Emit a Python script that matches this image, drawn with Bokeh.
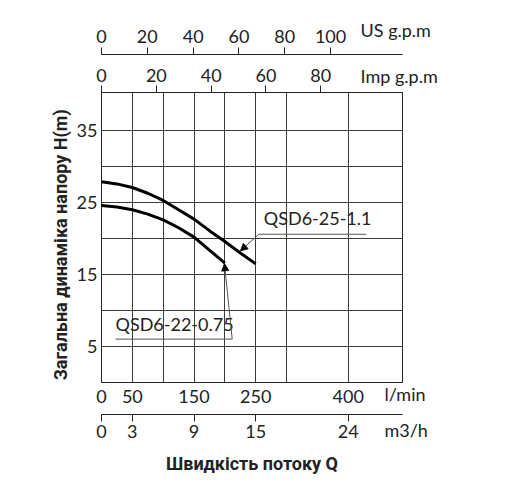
import math
from bokeh.plotting import figure
from bokeh.models import (LinearAxis, Range1d, FixedTicker, Label, Arrow, NormalHead)
from bokeh.embed import file_html
from bokeh.resources import INLINE

# ---------------- data ----------------
flow_25 = [0, 25, 50, 75, 100, 125, 150, 175, 200, 225, 250]          # l/min
head_25 = [27.9, 27.6, 27.1, 26.3, 25.3, 24.0, 22.7, 21.1, 19.6, 18.0, 16.5]  # m
flow_22 = [0, 25, 50, 75, 100, 125, 150, 175, 200]
head_22 = [24.6, 24.4, 24.0, 23.4, 22.6, 21.5, 20.2, 18.4, 16.6]

series_names = ["QSD6-25-1.1", "QSD6-22-0.75"]

lpm_ticks = [0, 50, 150, 250, 400]
m3h_ticks = [0, 3, 9, 15, 24]
us_ticks = [0, 20, 40, 60, 80, 100]
imp_ticks = [0, 20, 40, 60, 80]
head_ticks = [5, 15, 25, 35]
grid_x = [50, 100, 150, 200, 250, 300, 400]
grid_y = [5, 10, 15, 20, 25, 30, 35]

top_units = ["US g.p.m", "Imp g.p.m"]
bottom_units = ["l/min", "m3/h"]
x_title = "Швидкість потоку Q"
y_title = "Загальна динаміка напору H(m)"

X_MAX = 488      # l/min at right frame edge
Y_MAX = 40.3     # m at top frame edge
M3H_MAX = X_MAX * 0.06
US_MAX = 131.4
IMP_MAX = 109.8

TICK_FONT = "Lato"
TICK_SIZE = "18px"
INK = "#222222"
GRID = "#3c3c3c"

p = figure(width=510, height=500,
           x_range=Range1d(0, X_MAX), y_range=Range1d(0, Y_MAX),
           output_backend="svg", toolbar_location=None,
           min_border_left=101, min_border_right=108,
           min_border_top=92, min_border_bottom=118)
p.background_fill_color = "white"
p.border_fill_color = "white"
p.outline_line_color = INK
p.outline_line_width = 1

p.extra_x_ranges = {"m3h": Range1d(0, M3H_MAX),
                    "us": Range1d(0, US_MAX),
                    "imp": Range1d(0, IMP_MAX)}


def style_axis(ax, ticks, tick_out, standoff, line=True):
    ax.ticker = FixedTicker(ticks=ticks)
    ax.major_tick_out = tick_out
    ax.major_tick_in = 0
    ax.minor_tick_line_color = None
    ax.major_tick_line_color = INK
    ax.axis_line_color = INK if line else None
    ax.major_label_text_font = TICK_FONT
    ax.major_label_text_font_size = TICK_SIZE
    ax.major_label_text_color = INK
    ax.major_label_standoff = standoff


# bottom l/min axis (frame edge)
xa = p.xaxis[0]
style_axis(xa, lpm_ticks, 0, 7, line=False)
xa.axis_label = "\u00a0"
xa.axis_label_text_font_size = "5px"
xa.axis_label_standoff = 0

# bottom m3/h axis
m3h_axis = LinearAxis(x_range_name="m3h")
style_axis(m3h_axis, m3h_ticks, 7, 3)
m3h_axis.axis_label = x_title
m3h_axis.axis_label_text_font = "Roboto"
m3h_axis.axis_label_text_font_style = "bold"
m3h_axis.axis_label_text_font_size = "18px"
m3h_axis.axis_label_text_color = INK
m3h_axis.axis_label_standoff = 12
p.add_layout(m3h_axis, "below")

# top Imp g.p.m axis (frame edge)
imp_axis = LinearAxis(x_range_name="imp")
style_axis(imp_axis, imp_ticks, 7, 4)
imp_axis.axis_label = "\u00a0"
imp_axis.axis_label_text_font_size = "4px"
imp_axis.axis_label_standoff = 3
p.add_layout(imp_axis, "above")

# top US g.p.m axis
us_axis = LinearAxis(x_range_name="us")
style_axis(us_axis, us_ticks, 7, 5)
p.add_layout(us_axis, "above")

# left axis
ya = p.yaxis[0]
style_axis(ya, head_ticks, 0, 4, line=False)

# grid
p.xgrid.ticker = FixedTicker(ticks=grid_x)
p.ygrid.ticker = FixedTicker(ticks=grid_y)
for g in (p.xgrid, p.ygrid):
    g.grid_line_color = GRID
    g.grid_line_width = 1

# curves
p.line(flow_25, head_25, line_width=3, line_color="black")
p.line(flow_22, head_22, line_width=3, line_color="black")

# curve annotations
LEAD = "#555555"
p.add_layout(Label(x=263.1, y=21.3, text=series_names[0], text_font=TICK_FONT,
                   text_font_size=TICK_SIZE, text_color=INK))
p.line([255.0, 429.1], [20.6, 20.6], line_width=1, line_color=LEAD)
p.add_layout(Arrow(end=NormalHead(size=7, fill_color="black", line_color="black"),
                   x_start=255.0, y_start=20.6, x_end=225.4, y_end=18.3,
                   line_width=1, line_color=LEAD))

p.add_layout(Label(x=22.7, y=6.63, text=series_names[1], text_font=TICK_FONT,
                   text_font_size=TICK_SIZE, text_color=INK))
p.line([22.7, 211.9], [6.03, 6.03], line_width=1, line_color=LEAD)
p.add_layout(Arrow(end=NormalHead(size=7, fill_color="black", line_color="black"),
                   x_start=211.9, y_start=6.03, x_end=199.4, y_end=16.5,
                   line_width=1, line_color=LEAD))

# unit labels beside the axes (side panels, so they are not clipped to the frame)
p.add_layout(Label(x=420.0, y=45.78, text="\n".join(top_units), text_font=TICK_FONT,
                   text_font_size=TICK_SIZE, text_color=INK, text_line_height=2.08,
                   text_baseline="middle"), "right")
p.add_layout(Label(x=458.8, y=-4.08, text="\n".join(bottom_units), text_font=TICK_FONT,
                   text_font_size=TICK_SIZE, text_color=INK, text_line_height=1.625,
                   text_baseline="middle"), "left")

# y title
p.add_layout(Label(x=-66.5, y=19.14, text=y_title, angle=math.pi / 2,
                   text_align="center", text_baseline="alphabetic",
                   text_font="Roboto", text_font_style="bold",
                   text_font_size="18px", text_color=INK), "left")

open("out.html", "w").write(file_html(p, INLINE))
